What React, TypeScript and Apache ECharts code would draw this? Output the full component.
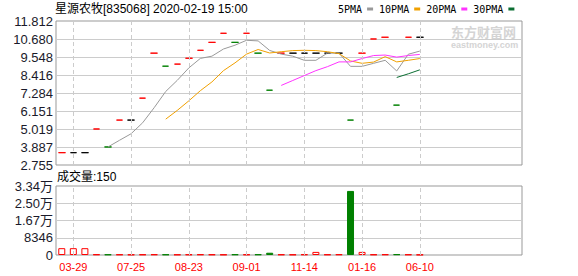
import React, { useEffect, useRef } from 'react';
import * as echarts from 'echarts';

// ---- data ----
const categories = [
  '03-28', '03-29', '04-12', '05-10', '06-21', '07-03', '07-25', '08-01',
  '08-07', '08-14', '08-21', '08-23', '08-24', '08-28', '08-29', '08-31',
  '09-01', '09-13', '09-27', '10-18', '10-30', '11-14', '11-29', '12-08',
  '12-22', '01-05', '01-16', '02-07', '03-14', '04-11', '05-09', '06-10',
];
const emptySlots = ['e1', 'e2', 'e3', 'e4', 'e5', 'e6', 'e7', 'e8'];
const labelDates = ['03-29', '07-25', '08-23', '09-01', '11-14', '01-16', '06-10'];

const closes = [
  3.53, 3.53, 3.53, 5.02, 3.89, 5.58, 5.58, 6.96,
  9.79, 8.97, 9.10, 9.47, 9.97, 10.47, 11.04, 10.47,
  11.04, 9.79, 7.46, 9.79, 9.79, 9.79, 9.79, 9.79,
  9.79, 5.58, 9.79, 10.68, 10.79, 6.52, 10.79, 10.79,
];
// u = up (red), d = down (green), f = flat (black)
const trend = [
  'u', 'f', 'f', 'u', 'd', 'u', 'f', 'u',
  'u', 'd', 'u', 'u', 'u', 'u', 'u', 'd',
  'u', 'd', 'd', 'u', 'f', 'f', 'f', 'f',
  'f', 'd', 'u', 'u', 'u', 'd', 'u', 'f',
];
const volumes = [
  3300, 3300, 3300, 300, 250, 250, 200, 250,
  300, 250, 200, 250, 300, 250, 200, 300,
  250, 300, 1100, 250, 200, 300, 1500, 250,
  300, 31000, 1500, 250, 300, 350, 250, 150,
];
const ma5 = [
  null, null, null, null, 3.89, 4.31, 4.72, 5.41,
  6.36, 7.38, 8.08, 8.86, 9.46, 9.60, 10.05, 10.29,
  10.60, 10.56, 9.96, 9.73, 9.60, 9.34, 9.34, 9.79,
  9.79, 8.96, 8.96, 9.15, 9.34, 8.67, 9.72, 9.92,
];
const ma10 = [
  null, null, null, null, null, null, null, null,
  null, 5.64, 6.19, 6.79, 7.43, 7.98, 8.69, 9.18,
  9.73, 10.02, 9.80, 9.88, 9.95, 9.97, 9.95, 9.88,
  9.76, 9.30, 9.15, 9.23, 9.57, 9.24, 9.34, 9.45,
];
const ma20 = [
  null, null, null, null, null, null, null, null,
  null, null, null, null, null, null, null, null,
  null, null, null, 7.76, 8.07, 8.38, 8.69, 8.94,
  9.24, 9.24, 9.45, 9.64, 9.67, 9.54, 9.64, 9.71,
];
const ma30 = [
  null, null, null, null, null, null, null, null,
  null, null, null, null, null, null, null, null,
  null, null, null, null, null, null, null, null,
  null, null, null, null, null, 8.26, 8.49, 8.74,
];
const priceTicks = ['2.755', '3.887', '5.019', '6.151', '7.284', '8.416', '9.548', '10.680', '11.812'];
const priceMin = 2.755;
const priceMax = 11.812;
const volumeMax = 33384;
const volumeStep = 8346;

const RED = '#ff0000';
const GREEN = '#008000';
const BLACK = '#000000';
const FONT = '"Liberation Sans","Noto Sans CJK SC",sans-serif';

export default function App() {
  const ref = useRef<HTMLDivElement>(null);

  useEffect(() => {
    if (!ref.current) return;
    const chart = echarts.init(ref.current, undefined, { renderer: 'svg' });
    const allCats = [...categories, ...emptySlots];
    const colorOf = (t: string) => (t === 'u' ? RED : t === 'd' ? GREEN : BLACK);

    const candleData = closes.map((c, i) => {
      const col = colorOf(trend[i]);
      return {
        value: [c, c, c, c],
        itemStyle: {
          color: col, color0: col, borderColor: col, borderColor0: col,
          borderColorDoji: col, borderWidth: 1,
        },
      };
    });
    const volData = volumes.map((v, i) => {
      const down = trend[i] === 'd';
      return {
        value: v,
        itemStyle: down
          ? { color: GREEN, borderColor: GREEN, borderWidth: 1 }
          : { color: '#ffffff', borderColor: RED, borderWidth: 1 },
      };
    });
    const vLines = {
      silent: true,
      symbol: ['none', 'none'],
      label: { show: false },
      lineStyle: { color: '#cccccc', type: [4, 3], width: 1 },
      emphasis: { disabled: true },
      data: labelDates.map((d) => ({ xAxis: d })),
    };
    const maLine = (name: string, data: (number | null)[], color: string) => ({
      name,
      type: 'line',
      xAxisIndex: 1,
      yAxisIndex: 1,
      data,
      showSymbol: false,
      symbol: 'none',
      itemStyle: { color },
      lineStyle: { color, width: 1 },
      silent: true,
    });

    chart.setOption({
      animation: false,
      textStyle: { fontFamily: FONT },
      title: [
        {
          text: '星源农牧[835068] 2020-02-19 15:00',
          left: 55, top: 3, padding: 0,
          textStyle: { fontSize: 12, fontWeight: 'normal', color: '#000', fontFamily: FONT },
        },
        {
          text: '成交量:150',
          left: 57, top: 171, padding: 0,
          textStyle: { fontSize: 12, fontWeight: 'normal', color: '#000', fontFamily: FONT },
        },
      ],
      legend: {
        data: ['5PMA', '10PMA', '20PMA', '30PMA'],
        left: 338, top: 4, padding: 0,
        align: 'right', icon: 'rect', itemWidth: 6, itemHeight: 3, itemGap: 6,
        selectedMode: false,
        textStyle: { fontFamily: '"DejaVu Sans Mono",monospace', fontSize: 10, color: '#000' },
      },
      graphic: [
        {
          type: 'text', left: 451, top: 24, silent: true,
          style: { text: '东方财富网', font: 'bold 13px "Noto Sans CJK SC"', lineHeight: 14, fill: '#d4d4d4' },
        },
        {
          type: 'text', left: 451, top: 40, silent: true,
          style: { text: 'eastmoney.com', font: 'bold 9px "Liberation Sans"', lineHeight: 9, fill: '#d4d4d4' },
        },
      ],
      grid: [
        { left: 56, top: 21, width: 466, height: 144, show: true, borderColor: '#999', borderWidth: 1, backgroundColor: 'transparent' },
        { left: 56, top: 21, width: 462, height: 144 },
        { left: 56, top: 186, width: 466, height: 69, show: true, borderColor: '#999', borderWidth: 1, backgroundColor: 'transparent' },
        { left: 56, top: 186, width: 462, height: 69 },
      ],
      xAxis: [
        { gridIndex: 0, type: 'value', min: 0, max: 1, show: false },
        {
          gridIndex: 1, type: 'category', data: allCats, boundaryGap: true,
          axisLine: { show: false }, axisTick: { show: false }, axisLabel: { show: false }, splitLine: { show: false },
        },
        { gridIndex: 2, type: 'value', min: 0, max: 1, show: false },
        {
          gridIndex: 3, type: 'category', data: allCats, boundaryGap: true,
          axisLine: { show: false }, axisTick: { show: false }, splitLine: { show: false },
          axisLabel: {
            interval: (_i: number, v: string) => labelDates.includes(v),
            color: RED, fontSize: 11, margin: 6, fontFamily: FONT,
          },
        },
      ],
      yAxis: [
        {
          gridIndex: 0, type: 'value', min: 0, max: priceTicks.length - 1, interval: 1,
          axisLine: { show: false }, axisTick: { show: false },
          axisLabel: {
            formatter: (v: number) => priceTicks[Math.round(v)],
            fontSize: 13, color: '#1a1a2a', margin: 3, fontFamily: FONT,
            showMinLabel: true, showMaxLabel: true,
          },
          splitLine: { lineStyle: { color: '#cccccc', width: 1 }, showMinLine: false, showMaxLine: false },
        },
        { gridIndex: 1, type: 'value', min: priceMin, max: priceMax, show: false, splitLine: { show: false } },
        {
          gridIndex: 2, type: 'value', min: 0, max: volumeMax, interval: volumeStep,
          axisLine: { show: false }, axisTick: { show: false },
          axisLabel: {
            formatter: (v: number) => (v >= 10000 ? (v / 10000).toFixed(2) + '万' : String(Math.round(v))),
            fontSize: 13, color: '#1a1a2a', margin: 3, fontFamily: FONT,
            showMinLabel: true, showMaxLabel: true,
          },
          splitLine: { lineStyle: { color: '#cccccc', width: 1 }, showMinLine: false, showMaxLine: false },
        },
        { gridIndex: 3, type: 'value', min: 0, max: volumeMax, show: false, splitLine: { show: false } },
      ],
      series: [
        {
          name: 'K',
          type: 'candlestick',
          xAxisIndex: 1,
          yAxisIndex: 1,
          barWidth: 7,
          data: candleData,
          markLine: vLines,
          silent: true,
        },
        maLine('5PMA', ma5, '#999999'),
        maLine('10PMA', ma10, '#f0a000'),
        maLine('20PMA', ma20, '#ff33ff'),
        maLine('30PMA', ma30, '#0b6e32'),
        {
          name: 'VOL',
          type: 'bar',
          xAxisIndex: 3,
          yAxisIndex: 3,
          barWidth: 7,
          data: volData,
          markLine: vLines,
          silent: true,
        },
      ],
    });
    return () => chart.dispose();
  }, []);

  return (
    <div
      ref={ref}
      style={{ position: 'fixed', left: 0, top: 0, width: 578, height: 276, background: '#fff' }}
    />
  );
}
